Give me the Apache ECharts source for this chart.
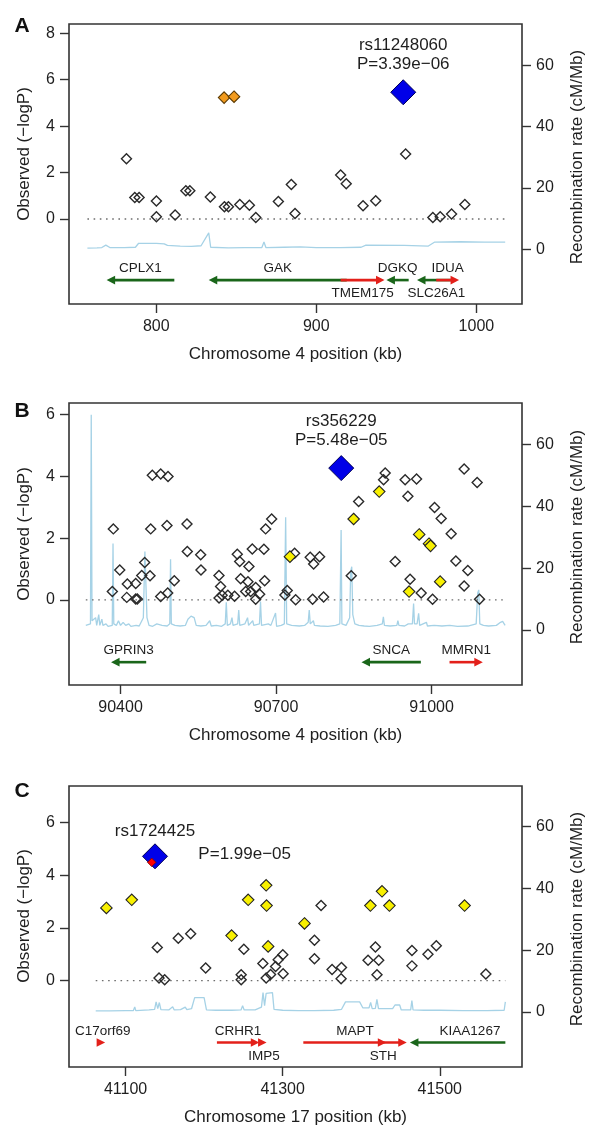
<!DOCTYPE html>
<html><head><meta charset="utf-8">
<script src="https://cdn.jsdelivr.net/npm/echarts@6/dist/echarts.min.js"></script>
<style>html,body{margin:0;padding:0;background:#fff}#c{width:600px;height:1142px}</style>
</head><body><div id="c"></div>
<script>
// ---------------- DATA ----------------
const panelLetters = ['A', 'B', 'C'];
const xTitles = ['Chromosome 4 position (kb)', 'Chromosome 4 position (kb)', 'Chromosome 17 position (kb)'];
const yTitleLeft = 'Observed (\u2212logP)';
const yTitleRight = 'Recombination rate (cM/Mb)';
const xTicksA = [800, 900, 1000];
const xTicksB = [90400, 90700, 91000];
const xTicksC = [41100, 41300, 41500];
const logPTicksA = [0, 2, 4, 6, 8];
const logPTicksB = [0, 2, 4, 6];
const logPTicksC = [0, 2, 4, 6];
const recTicks = [0, 20, 40, 60];

// Panel A
const snpsA_other = [[781.4,2.6],[786.6,0.93],[789.3,0.93],[800.1,0.78],[800.1,0.1],[811.8,0.17],[818.5,1.22],[821,1.22],[833.8,0.95],[842.6,0.53],[845.1,0.53],[852.2,0.63],[858.2,0.59],[862.2,0.07],[876.3,0.75],[884.4,1.49],[886.7,0.24],[915.2,1.9],[918.7,1.52],[929.2,0.57],[937.1,0.79],[955.8,2.8],[972.8,0.07],[977.4,0.1],[984.5,0.22],[992.8,0.63]];
const snpsA_orange = [[842.4,5.23],[848.6,5.27]];
const leadA = [954.3,5.46];
const leadLabelA = ['rs11248060', 'P=3.39e\u221206'];
const recombA = [[757,0.3],[763,0.4],[766,0.5],[768.5,1.3],[771,0.5],[780,0.5],[787,0.6],[789,1.9],[800,1.9],[805,1.7],[807,1.2],[815,1.0],[822,0.9],[828,1.1],[832.8,5.3],[834,0.6],[845,0.4],[855,0.5],[866,0.5],[867.3,2.3],[868.5,0.5],[880,0.6],[890,0.7],[900,0.5],[915,0.5],[928,0.6],[931,1.3],[955,1.2],[970,1.0],[974,2.3],[990,2.4],[1005,2.3],[1018,2.3]];
const genesA_name = ['CPLX1','GAK','TMEM175','DGKQ','SLC26A1','IDUA'];
const genesA_start = [769,832.8,915.2,943.8,962.9,974.9];
const genesA_end = [811.3,919,942.6,957.7,987,989.2];
const genesA_strand = [-1,-1,1,-1,-1,1];

// Panel B
const snpsB_other = [[90386.1,2.30],[90384.2,0.27],[90398.5,0.97],[90413.1,0.51],[90412.0,0.08],[90429.3,0.03],[90432.4,0.03],[90429.3,0.53],[90440.9,0.79],[90446.6,1.21],[90456.9,0.78],[90461.3,4.04],[90477.5,4.08],[90491.6,4.00],[90458.2,2.30],[90489.6,2.41],[90477.5,0.11],[90491.0,0.22],[90503.7,0.62],[90528.2,2.46],[90528.8,1.57],[90554.6,1.46],[90555.2,0.97],[90589.9,0.79],[90593.0,0.43],[90590.0,0.06],[90596.0,0.15],[90607.0,0.15],[90620.0,0.12],[90625.2,1.48],[90629.8,1.24],[90647.7,1.08],[90654.1,1.65],[90676.6,1.64],[90679.9,2.30],[90691.5,2.62],[90631.7,0.68],[90645.8,0.59],[90641.4,0.27],[90651.0,0.27],[90660.7,0.40],[90660.7,0.02],[90668.4,0.18],[90678.0,0.62],[90717.1,0.16],[90721.6,0.30],[90737.8,0.00],[90735.8,1.51],[90765.9,1.38],[90784.0,1.40],[90772.5,1.16],[90770.5,0.02],[90791.7,0.09],[90845.0,0.78],[90859.3,3.19],[90910.5,4.11],[90907.4,3.89],[90949.0,3.89],[90971.0,3.92],[90954.3,3.36],[90929.8,1.24],[91005.7,2.99],[91018.5,2.64],[91037.8,2.14],[90958.5,0.67],[90979.9,0.22],[91001.9,0.02],[91046.8,1.26],[91069.9,0.95],[91062.8,0.45],[91062.8,4.24],[91087.9,3.80],[91092.5,0.02]];
const snpsB_yellow = [[90726.8,1.4],[90849.6,2.62],[90899,3.51],[90976.1,2.12],[90995,1.82],[90998,1.75],[90956.6,0.27],[91016.6,0.59]];
const leadB = [90825.7,4.27];
const leadLabelB = ['rs356229', 'P=5.48e\u221205'];
const recombB = [[90333,1.5],[90342,2],[90343.5,69.7],[90345,3],[90348,2.5],[90352,4],[90354,1.5],[90358,5],[90360,1.5],[90364,3.5],[90366,1.5],[90372,2],[90376,1.2],[90384,1.5],[90385.5,28],[90387,2],[90392,1.5],[90396,3],[90400,1.5],[90405,2.5],[90410,1.5],[90416,2],[90420,1.2],[90430,1.5],[90436,1.3],[90444,4],[90447,25.4],[90449,25],[90451,4],[90455,1.5],[90462,1.2],[90470,2],[90480,1.5],[90490,1.3],[90495,2],[90496.5,22.9],[90498,2],[90505,1.5],[90515,1.3],[90525,1.5],[90530,3.5],[90536,4.5],[90542,4],[90546,1.5],[90555,1.3],[90565,1.5],[90572,3],[90575,1.3],[90585,1.5],[90595,1.2],[90602,2],[90604,9],[90606,1.5],[90612,2],[90615,4],[90617,1.5],[90626,2],[90628,6.5],[90630,1.5],[90640,2],[90645,4],[90647,1.5],[90655,3],[90657,1.5],[90668,2],[90670,9.2],[90672,1.5],[90685,2],[90690,1.5],[90699,5.5],[90701,1.2],[90710,1.5],[90716,2],[90718.5,36.5],[90720.5,2],[90730,1.5],[90745,1.3],[90755,1.5],[90762,2.5],[90764,6.5],[90766,2],[90772,3],[90774,1.5],[90785,1.3],[90800,1.2],[90815,1.5],[90823,2],[90825.5,32.4],[90827,2],[90835,1.5],[90842,4],[90844,19],[90846,20.5],[90848,5],[90852,2],[90860,1.5],[90870,1.3],[90880,1.2],[90895,1.5],[90905,2],[90907,4.3],[90909,1.5],[90920,1.3],[90933,1.5],[90935,3],[90937,1.5],[90948,1.3],[90955,2],[90963,2],[90965.3,8.6],[90967,2],[90972,2],[90975,5.4],[90977,1.5],[90990,2.5],[90992,1.3],[91005,1.5],[91020,1.3],[91035,1.5],[91050,1.2],[91070,1.3],[91086,2],[91089,12],[91091,13],[91093,2],[91100,1.5],[91110,1.3],[91125,1.5],[91133,2.5],[91137,2.8],[91141.8,1.5]];
const genesB_name = ['GPRIN3','SNCA','MMRN1'];
const genesB_start = [90381.7,90864.8,91034.6];
const genesB_end = [90449.5,90979.3,91098.8];
const genesB_strand = [-1,-1,1];

// Panel C
const snpsC_other = [[41140.4,1.26],[41142.6,0.10],[41149.8,0.03],[41167.1,1.61],[41182.9,1.78],[41202.0,0.48],[41250.6,1.19],[41247.2,0.22],[41247.2,0.03],[41274.8,0.65],[41279.0,0.10],[41284.6,0.23],[41291.0,0.54],[41294.3,0.79],[41300.2,0.98],[41300.6,0.26],[41340.5,1.53],[41340.5,0.83],[41348.9,2.85],[41362.9,0.42],[41374.9,0.50],[41374.4,0.07],[41418.1,1.28],[41408.7,0.77],[41422.3,0.77],[41420.1,0.22],[41464.6,1.14],[41464.6,0.56],[41485.0,1.00],[41495.6,1.32],[41558.7,0.25]];
const snpsC_yellow = [[41075.6,2.76],[41107.9,3.07],[41235.0,1.71],[41256.1,3.07],[41279.0,3.62],[41279.5,2.85],[41281.5,1.30],[41327.8,2.17],[41411.7,2.85],[41426.5,3.39],[41435.9,2.85],[41531.6,2.85]];
const leadC = [41137.5,4.72];
const proxyC = [41133.3,4.49];
const leadLabelC = ['rs1724425', 'P=1.99e\u221205'];
const recombC = [[41062,0.3],[41080,0.3],[41100,0.4],[41110,0.4],[41111.7,1.6],[41113,0.4],[41130,0.6],[41137,0.8],[41138.9,3.2],[41141,1.0],[41143,3],[41145,0.7],[41155,0.6],[41160,1.6],[41162,0.6],[41170,0.7],[41176,1.5],[41178,0.7],[41184,1.0],[41188,4.6],[41200,4.6],[41203,0.6],[41215,0.5],[41235,0.5],[41247,0.6],[41249,2],[41251,0.6],[41265,0.6],[41273,1.5],[41275,6.2],[41277,2],[41279,6],[41287,6.2],[41289,0.8],[41300,0.5],[41320,0.4],[41340,0.4],[41365,0.5],[41375,0.8],[41380,3.2],[41398,3.2],[41402,1.3],[41410,1.3],[41412,3],[41414,1.0],[41418,1.1],[41420,4],[41422,1.0],[41440,1.0],[41443,2.2],[41449,2.2],[41451,0.6],[41463,0.6],[41464.5,3.6],[41466,0.6],[41480,0.5],[41500,0.5],[41530,0.4],[41560,0.4],[41582,0.5],[41583.5,3.2]];
const genesC_name = ['C17orf69','CRHR1','IMP5','MAPT','STH','KIAA1267'];
const genesC_start = [41068,41216.3,41272.8,41326.3,41424,41462];
const genesC_end = [41074,41270.3,41279.5,41458,41432,41615];
const genesC_strand = [1,1,1,1,1,-1];

// ---------------- LAYOUT / STYLE ----------------
const FONT = '"Liberation Sans", Arial, Helvetica, sans-serif';
const TXT = '#1e1e1e';
const BOX = '#333';
const GREEN = '#1a661a', RED = '#e3201a';
const belowLabels = {TMEM175: 1, SLC26A1: 1, IMP5: 1, STH: 1};
const layout = [
  {top: 24, height: 280, xMin: 745.5, xMax: 1028.5, yL: [-3.66, 8.40], yR: [-17.9, 73.4], geneLevel: -2.63, letterY: 26, yTitleY: 154},
  {top: 403, height: 282, xMin: 90300.6, xMax: 91174.4, yL: [-2.76, 6.38], yR: [-17.8, 73.5], geneLevel: -2.02, letterY: 411, yTitleY: 534},
  {top: 786, height: 281, xMin: 41028, xMax: 41604.7, yL: [-3.28, 7.39], yR: [-17.9, 73.2], geneLevel: -2.35, letterY: 791, yTitleY: 916}
];

const panels = [
  {xTicks: xTicksA, logTicks: logPTicksA, other: snpsA_other, colored: snpsA_orange, colColor: '#f29b1e', colBorder: '#5a3800', lead: leadA, label: leadLabelA, recomb: recombA, gN: genesA_name, gS: genesA_start, gE: genesA_end, gD: genesA_strand},
  {xTicks: xTicksB, logTicks: logPTicksB, other: snpsB_other, colored: snpsB_yellow, colColor: '#f8f000', colBorder: '#222', lead: leadB, label: leadLabelB, recomb: recombB, gN: genesB_name, gS: genesB_start, gE: genesB_end, gD: genesB_strand},
  {xTicks: xTicksC, logTicks: logPTicksC, other: snpsC_other, colored: snpsC_yellow, colColor: '#f8f000', colBorder: '#222', lead: leadC, label: leadLabelC, recomb: recombC, gN: genesC_name, gS: genesC_start, gE: genesC_end, gD: genesC_strand, proxy: proxyC}
];

const chart = echarts.init(document.getElementById('c'), null, {renderer: 'canvas'});
const grid = [], xAxis = [], yAxis = [], series = [], graphic = [];
const fmt = v => String(v);

panels.forEach((P, i) => {
  const L = layout[i];
  grid.push({left: 69, right: 78, top: L.top, height: L.height, show: true, borderColor: BOX, borderWidth: 1.6, backgroundColor: 'transparent', containLabel: false});
  xAxis.push({
    type: 'value', gridIndex: i, min: L.xMin, max: L.xMax, position: 'bottom',
    splitLine: {show: false}, axisLine: {show: false, onZero: false},
    axisTick: {show: true, length: 9, customValues: P.xTicks, lineStyle: {color: BOX, width: 1.4}},
    axisLabel: {customValues: P.xTicks, formatter: fmt, fontSize: 16, color: TXT, fontFamily: FONT, margin: 15},
    name: xTitles[i], nameLocation: 'middle', nameGap: 42,
    nameTextStyle: {fontSize: 17, color: TXT, fontFamily: FONT}
  });
  yAxis.push({
    type: 'value', gridIndex: i, min: L.yL[0], max: L.yL[1], position: 'left',
    splitLine: {show: false}, axisLine: {show: false, onZero: false},
    axisTick: {show: true, length: 9, customValues: P.logTicks, lineStyle: {color: BOX, width: 1.4}},
    axisLabel: {customValues: P.logTicks, formatter: fmt, fontSize: 16, color: TXT, fontFamily: FONT, margin: 14}
  });
  yAxis.push({
    type: 'value', gridIndex: i, min: L.yR[0], max: L.yR[1], position: 'right',
    splitLine: {show: false}, axisLine: {show: false, onZero: false},
    axisTick: {show: true, length: 9, customValues: recTicks, lineStyle: {color: BOX, width: 1.4}},
    axisLabel: {customValues: recTicks, formatter: fmt, fontSize: 16, color: TXT, fontFamily: FONT, margin: 14}
  });
  const yl = 2 * i, yr = 2 * i + 1;
  const rx = P.recomb.map(d => d[0]);
  const lo = Math.min(...rx), hi = Math.max(...rx);

  series.push({type: 'line', xAxisIndex: i, yAxisIndex: yr, data: P.recomb, showSymbol: false, symbol: 'none', silent: true, z: 1,
    lineStyle: {color: '#a6d2e6', width: 1.3}});
  series.push({type: 'line', xAxisIndex: i, yAxisIndex: yl, data: [[lo, 0], [hi, 0]], showSymbol: false, symbol: 'none', silent: true, z: 2,
    lineStyle: {color: '#6e6e6e', width: 1.4, type: [1.6, 4.6]}});

  // genes
  const gData = P.gN.map((n, k) => ({name: n, value: [P.gS[k], P.gE[k], P.gD[k], L.geneLevel]}));
  series.push({type: 'custom', xAxisIndex: i, yAxisIndex: yl, silent: true, z: 3, data: gData,
    renderItem: (params, api) => {
      const k = params.dataIndex;
      const s = api.value(0), e = api.value(1), d = api.value(2), lvl = api.value(3);
      const name = P.gN[k];
      const a = api.coord([Math.max(s, lo), lvl]);
      const b = api.coord([Math.min(e, hi), lvl]);
      const mid = api.coord([(s + e) / 2, lvl]);
      const col = d > 0 ? RED : GREEN;
      const HL = 8.5, HW = 4.3;
      let x1 = a[0], x2 = b[0];
      const y = a[1];
      let head;
      if (d > 0) {
        head = [[x2, y], [x2 - HL, y - HW], [x2 - HL, y + HW]];
        x2 = x2 - HL + 1;
      } else {
        head = [[x1, y], [x1 + HL, y - HW], [x1 + HL, y + HW]];
        x1 = x1 + HL - 1;
      }
      const children = [];
      if (x2 > x1) children.push({type: 'line', shape: {x1: x1, y1: y, x2: x2, y2: y}, style: {stroke: col, lineWidth: 2.6}});
      children.push({type: 'polygon', shape: {points: head}, style: {fill: col}});
      const below = belowLabels[name];
      children.push({type: 'text', x: mid[0], y: y + (below ? 13.5 : -11.5),
        style: {text: name, fontSize: 13.5, fontFamily: FONT, fill: TXT, align: 'center', verticalAlign: 'middle'}});
      return {type: 'group', children: children};
    }
  });

  series.push({type: 'scatter', xAxisIndex: i, yAxisIndex: yl, data: P.other, symbol: 'diamond', symbolSize: 10, z: 4, silent: true,
    itemStyle: {color: 'rgba(255,255,255,0)', borderColor: '#2a2a2a', borderWidth: 1.4, opacity: 1}});
  series.push({type: 'scatter', xAxisIndex: i, yAxisIndex: yl, data: P.colored, symbol: 'diamond', symbolSize: 11.5, z: 5, silent: true,
    itemStyle: {color: P.colColor, borderColor: P.colBorder, borderWidth: 1.1, opacity: 1}});
  const leadLabel = i < 2
    ? {show: true, position: 'top', distance: 5, formatter: P.label.join('\n'), fontSize: 17, lineHeight: 19.5, color: TXT, fontFamily: FONT}
    : {show: true, position: 'top', distance: 4, formatter: P.label[0], fontSize: 17, color: TXT, fontFamily: FONT};
  series.push({type: 'scatter', xAxisIndex: i, yAxisIndex: yl, data: [P.lead], symbol: 'diamond', symbolSize: 25, z: 6, silent: true,
    itemStyle: {color: '#0000e8', borderColor: '#000055', borderWidth: 1, opacity: 1}, label: leadLabel});
  if (P.proxy) {
    series.push({type: 'scatter', xAxisIndex: i, yAxisIndex: yl, data: [P.proxy], symbol: 'diamond', symbolSize: 8.5, z: 7, silent: true,
      itemStyle: {color: '#ff0000', borderColor: '#7a0000', borderWidth: 0.8, opacity: 1},
      label: {show: true, position: 'right', distance: 42, offset: [0, -8], formatter: P.label[1], fontSize: 17, color: TXT, fontFamily: FONT}});
  }

  graphic.push({type: 'text', x: 22, y: L.letterY, style: {text: panelLetters[i], fontSize: 21, fontWeight: 'bold', fontFamily: FONT, fill: '#111', align: 'center', verticalAlign: 'middle'}});
  graphic.push({type: 'text', x: 24, y: L.yTitleY, rotation: Math.PI / 2, style: {text: yTitleLeft, fontSize: 17, fontFamily: FONT, fill: TXT, align: 'center', verticalAlign: 'middle'}});
  graphic.push({type: 'text', x: 577, y: L.yTitleY + 3, rotation: Math.PI / 2, style: {text: yTitleRight, fontSize: 17, fontFamily: FONT, fill: TXT, align: 'center', verticalAlign: 'middle'}});
});

chart.setOption({animation: false, backgroundColor: '#fff', grid, xAxis, yAxis, series, graphic});
</script></body></html>
